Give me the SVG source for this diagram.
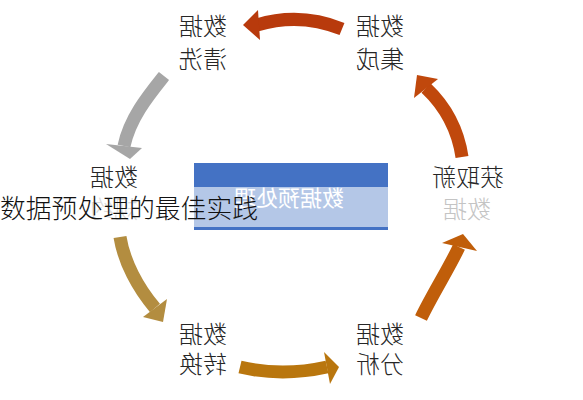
<svg xmlns="http://www.w3.org/2000/svg" width="583" height="400" viewBox="0 0 583 400">
<style>
.lbl{font-family:"Noto Sans CJK SC","Noto Sans",sans-serif;font-size:24px;font-weight:300;fill:#262626;text-anchor:middle}
.faint{fill:#c4c4c4}
.hidden{fill:#dadada}
.shaft{fill:none;stroke-width:13;stroke-linecap:butt}
.cap{font-family:"Noto Sans CJK SC","Noto Sans",sans-serif;font-size:25.8px;font-weight:300;fill:#111}
</style>
<rect width="583" height="400" fill="#ffffff"/>
<g id="connectors">
  <path class="shaft" stroke="#b83a0c" d="M342,29 Q300,12 257,25"/>
  <polygon fill="#b83a0c" points="243,25 258,10 260,40"/>
  <path class="shaft" stroke="#a6a6a6" d="M164,76 C148,96 130,118 124,146"/>
  <polygon fill="#a6a6a6" points="106,144 142,148 130,159"/>
  <path class="shaft" stroke="#b38d40" d="M120,237 C124,262 138,288 155,308"/>
  <polygon fill="#b38d40" points="143,317 167,299 163,322"/>
  <path class="shaft" stroke="#b9760e" stroke-width="14" d="M240,367 Q282,377 327,367"/>
  <polygon fill="#b9760e" points="324,352 339,367 330,384"/>
  <path class="shaft" stroke="#c05e0a" d="M421,318 C432,295 448,270 459,247"/>
  <polygon fill="#c05e0a" points="442,243 463,234 477,251"/>
  <path class="shaft" stroke="#c0480c" d="M462,157 C458,130 445,106 426,88"/>
  <polygon fill="#c0480c" points="414,98 438,79 417,75"/>
</g>
<g id="node-clean">
  <text class="lbl" transform="scale(-1,1)" x="-203" y="35">数据</text>
  <text class="lbl" transform="scale(-1,1)" x="-203" y="68">清洗</text>
</g>
<g id="node-integrate">
  <text class="lbl" transform="scale(-1,1)" x="-380" y="35">数据</text>
  <text class="lbl" transform="scale(-1,1)" x="-380" y="68">集成</text>
</g>
<g id="node-reduce">
  <text class="lbl" transform="scale(-1,1)" x="-114" y="186">数据</text>
  <text class="lbl hidden" transform="scale(-1,1)" x="-114" y="218">规约</text>
</g>
<g id="node-acquire">
  <text class="lbl" transform="scale(-1,1)" x="-468" y="186">获取新</text>
  <text class="lbl faint" transform="scale(-1,1)" x="-467" y="218">数据</text>
</g>
<g id="node-transform">
  <text class="lbl" transform="scale(-1,1)" x="-203" y="343">数据</text>
  <text class="lbl" transform="scale(-1,1)" x="-203" y="373">转换</text>
</g>
<g id="node-analyze">
  <text class="lbl" transform="scale(-1,1)" x="-380" y="343">数据</text>
  <text class="lbl" transform="scale(-1,1)" x="-380" y="373">分析</text>
</g>
<g id="node-center">
  <rect x="194" y="163" width="194" height="67" fill="#4472c4"/>
  <rect x="194" y="187" width="194" height="40" fill="#b4c7e7"/>
  <text transform="scale(-1,1)" x="-289" y="206" font-family="Noto Sans CJK SC, Noto Sans, sans-serif" font-size="22" fill="#ffffff" text-anchor="middle">数据预处理</text>
</g>
<text class="cap" x="0" y="218">数据预处理的最佳实践</text>
</svg>
